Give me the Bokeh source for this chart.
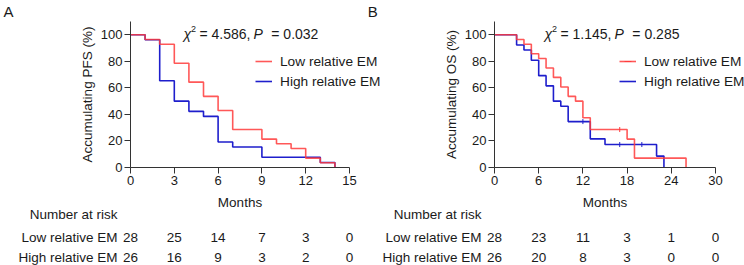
import math
from bokeh.plotting import figure
from bokeh.models import Range1d, FixedTicker, ColumnDataSource, Legend, LegendItem, Title
from bokeh.layouts import row, column
from bokeh.embed import file_html
from bokeh.resources import INLINE
from bokeh.core.properties import value

FONT = "Liberation Sans"
RED = "#FF3B3B"
BLUE = "#1E1ECC"
TXT = "#1a1a1a"
AXC = "#333333"
NB = "\u00a0"

# ---------------- Panel A: PFS ----------------
a_low_t = [0, 1, 2, 3, 4, 5, 6, 7, 9, 10, 11, 12, 13, 14]
a_low_s = [100, 96.4, 92.9, 78.6, 64.3, 53.6, 42.9, 28.6, 21.4, 17.9, 14.3, 7.1, 3.6, 0]
a_high_t = [0, 1, 2, 3, 4, 5, 6, 7, 9, 13, 14]
a_high_s = [100, 96.2, 65.4, 50, 42.3, 38.5, 19.2, 15.4, 7.7, 3.8, 0]
a_low_cens_t, a_low_cens_s = [], []
a_high_cens_t, a_high_cens_s = [], []
a_ticks = [0, 3, 6, 9, 12, 15]
a_risk_low = [28, 25, 14, 7, 3, 0]
a_risk_high = [26, 16, 9, 3, 2, 0]
a_chi = "4.586"
a_p = "0.032"

# ---------------- Panel B: OS ----------------
b_low_t = [0, 3, 4, 5, 6, 7, 8, 9, 10, 11, 12, 13, 18, 19, 26]
b_low_s = [100, 96.4, 92.9, 85.7, 82.1, 75.0, 67.9, 60.7, 53.6, 50.0, 37.5, 28.6, 21.4, 7.1, 0]
b_high_t = [0, 3, 4, 5, 6, 7, 8, 9, 10, 13, 15, 22, 23]
b_high_s = [100, 92.3, 88.5, 80.8, 69.2, 61.5, 50.0, 46.2, 34.6, 21.6, 17.3, 8.6, 0]
b_low_cens_t, b_low_cens_s = [17], [28.6]
b_high_cens_t, b_high_cens_s = [12, 17, 20], [34.6, 17.3, 17.3]
b_ticks = [0, 6, 12, 18, 24, 30]
b_risk_low = [28, 23, 11, 3, 1, 0]
b_risk_high = [26, 20, 8, 3, 0, 0]
b_chi = "1.145"
b_p = "0.285"

y_ticks = [0, 20, 40, 60, 80, 100]
groups = ["Low relative EM", "High relative EM"]
panel_letters = ["A", "B"]
risk_title = "Number at risk"
x_title = "Months"

WA = 382            # canvas width of panel A (its legend spills a little past mid-page)
WB = 744 - WA
TOP = 21
FRAME_H = 146
BOT = 24
MAIN_H = TOP + FRAME_H + BOT
RISK_H = 265 - MAIN_H
YMAX = 110


def style_axes(p):
    for ax in (p.xaxis[0], p.yaxis[0]):
        ax.axis_line_color = AXC
        ax.axis_line_width = 1
        ax.major_tick_line_color = AXC
        ax.major_tick_out = 6
        ax.major_tick_in = 0
        ax.minor_tick_line_color = None
        ax.major_label_text_font = FONT
        ax.major_label_text_font_size = "13px"
        ax.major_label_text_color = TXT
        ax.axis_label_text_font = FONT
        ax.axis_label_text_font_size = "13.5px"
        ax.axis_label_text_font_style = "normal"
        ax.axis_label_text_color = TXT
        ax.major_label_standoff = 2
        ax.axis_label_standoff = 3


def make_panel(W, ylabel, xmax, xticks, lt, ls, ht, hs, lct, lcs, hct, hcs,
               chi, pval, chi_x, risk_low, risk_high, left, frame_w):
    k = frame_w / xmax                     # pixels per month
    xend = (W - left) / k                  # frame runs to the right edge of the canvas
    p = figure(width=W, height=MAIN_H, x_range=Range1d(0, xend), y_range=Range1d(0, YMAX),
               output_backend="svg", toolbar_location=None,
               min_border_left=left, min_border_right=0,
               min_border_top=TOP, min_border_bottom=BOT)
    p.frame_align = False
    p.outline_line_color = None
    p.grid.visible = False
    p.xaxis.ticker = FixedTicker(ticks=xticks)
    p.yaxis.ticker = FixedTicker(ticks=y_ticks)
    p.xaxis.bounds = (0, xmax)
    p.yaxis.bounds = (0, YMAX)
    p.yaxis.axis_label = ylabel
    style_axes(p)

    rh = p.step(ht, hs, mode="after", line_color=BLUE, line_width=1.6)
    ch = p.scatter(hct, hcs, marker="dash", angle=math.pi / 2, size=5,
                   line_color=BLUE, line_width=1)
    rl = p.step(lt, ls, mode="after", line_color=RED, line_width=1.6, line_alpha=0.85)
    cl = p.scatter(lct, lcs, marker="dash", angle=math.pi / 2, size=5,
                   line_color=RED, line_width=1)

    legend = Legend(items=[LegendItem(label=groups[0], renderers=[rl, cl]),
                           LegendItem(label=groups[1], renderers=[rh, ch])],
                    location=(125, 76), padding=0, margin=0, spacing=0,
                    glyph_width=17, glyph_height=20, label_height=20, label_width=110,
                    label_standoff=8, border_line_color=None,
                    background_fill_alpha=0,
                    label_text_font=FONT, label_text_font_size="13.7px",
                    label_text_color=TXT)
    p.add_layout(legend)

    # chi-square annotation
    src = ColumnDataSource(dict(
        x=[chi_x] * 5, y=[100.5] * 5,
        text=["\u03c7", "2", NB + "=" + NB + chi + ",", "P", NB + NB + "=" + NB + pval],
        xo=[0, 7.5, 12, 70, 80], yo=[0, -5, 0, 0, 0],
        fs=["14px", "9px", "14px", "14px", "14px"],
        st=["italic", "normal", "normal", "italic", "normal"]))
    p.text(x="x", y="y", text="text", x_offset="xo", y_offset="yo",
           text_font_size="fs", text_font_style="st", source=src,
           text_font=value(FONT), text_color=TXT,
           text_align="left", text_baseline="middle")

    # risk table (with x-axis title)
    r = figure(width=W, height=RISK_H, x_range=Range1d(-left / k, xend),
               y_range=Range1d(RISK_H, 0), output_backend="svg", toolbar_location=None,
               x_axis_location=None, y_axis_location=None,
               min_border=0, min_border_left=0, min_border_right=0,
               min_border_top=0, min_border_bottom=0)
    r.frame_align = False
    r.outline_line_color = None
    r.grid.visible = False
    common = dict(text_font=value(FONT), text_color=TXT, text_baseline="middle",
                  text_font_size="13.5px")
    r.text(x=[xmax / 2], y=[11], text=[x_title], text_align="center", **common)
    r.text(x=[0], y=[23], text=[risk_title], x_offset=-13, text_align="right", **common)
    r.text(x=[0, 0], y=[46, 65.5], text=groups, x_offset=-13, text_align="right", **common)
    r.text(x=xticks, y=[46] * len(xticks), text=[str(v) for v in risk_low],
           text_align="center", **common)
    r.text(x=xticks, y=[65.5] * len(xticks), text=[str(v) for v in risk_high],
           text_align="center", **common)
    return p, r


pa, ra = make_panel(WA, "Accumulating PFS (%)", 15, a_ticks, a_low_t, a_low_s, a_high_t, a_high_s,
                    a_low_cens_t, a_low_cens_s, a_high_cens_t, a_high_cens_s,
                    a_chi, a_p, 3.63, a_risk_low, a_risk_high, 130, 219)
pb, rb = make_panel(WB, "Accumulating OS (%)", 30, b_ticks, b_low_t, b_low_s, b_high_t, b_high_s,
                    b_low_cens_t, b_low_cens_s, b_high_cens_t, b_high_cens_s,
                    b_chi, b_p, 6.8, b_risk_low, b_risk_high, 494 - WA, 221)

# panel letters (both sit in the top strip of the left canvas; "B" lies left of the split)
pa.add_layout(Title(text=panel_letters[0] + NB * 85 + panel_letters[1], align="left", offset=-127,
                    text_font=FONT, text_font_size="15px", text_color=TXT,
                    text_font_style="normal", standoff=0, vertical_align="top",
                    text_baseline="top", text_line_height=1.0), "above")

layout = row(column(pa, ra, spacing=0), column(pb, rb, spacing=0), spacing=0)
open("out.html", "w").write(file_html(layout, INLINE))
